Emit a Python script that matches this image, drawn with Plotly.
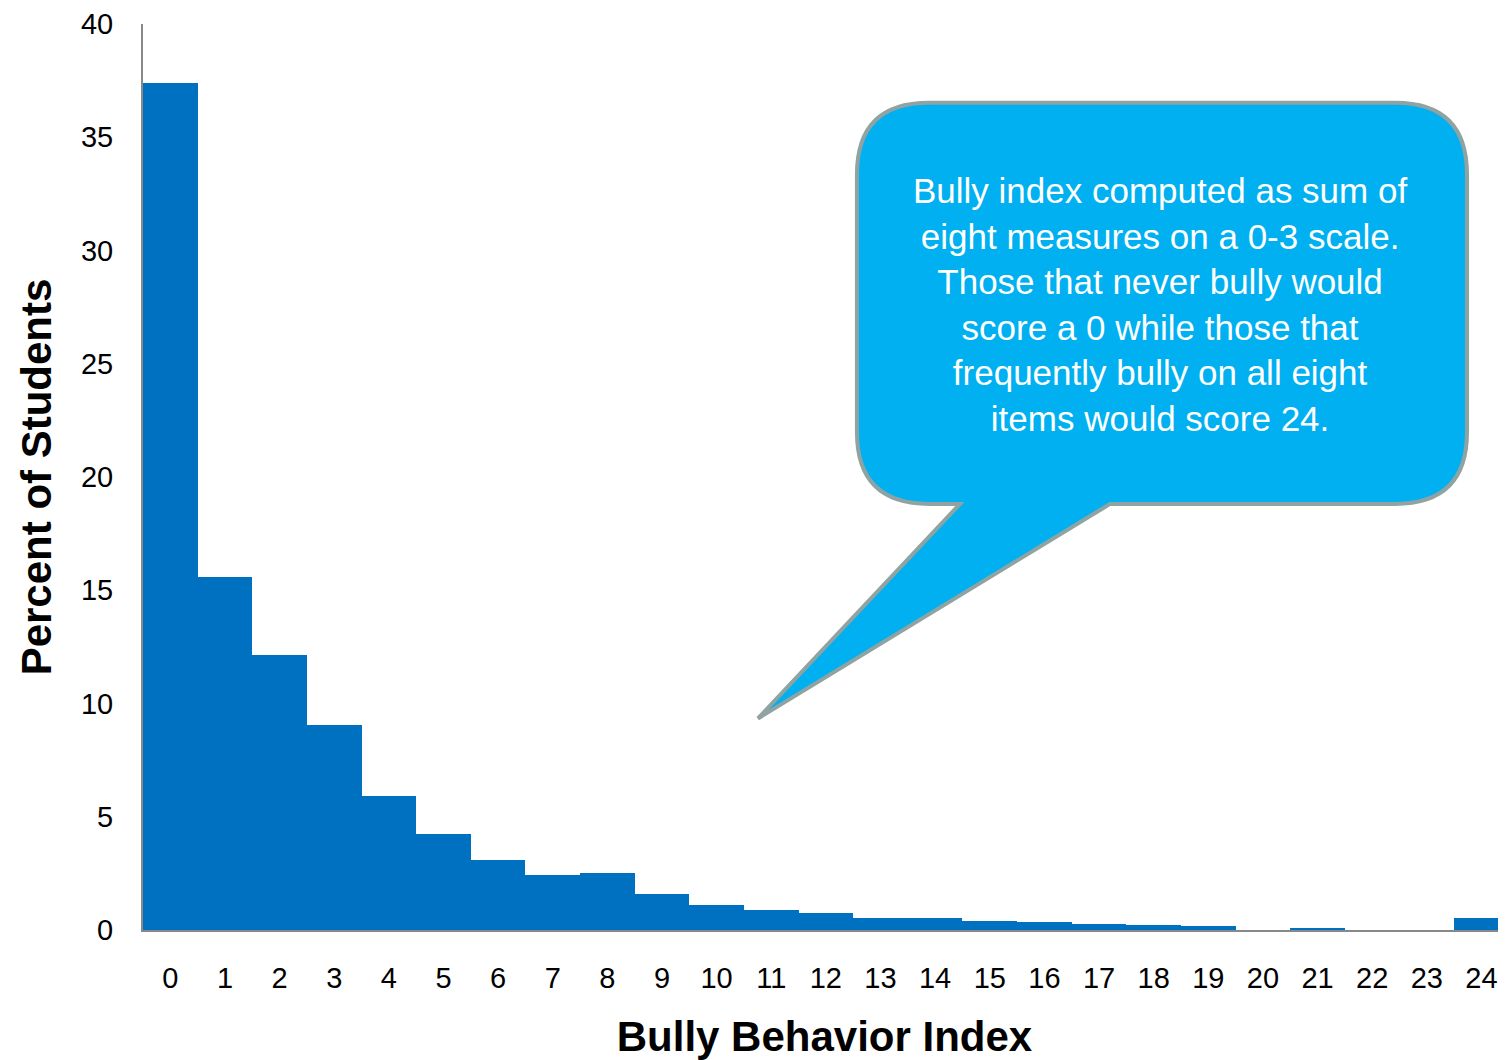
import plotly.graph_objects as go

# Bully behavior index histogram (percent of students per score)
index_scores = list(range(25))
percent_students = [37.4, 15.6, 12.15, 9.06, 5.93, 4.25, 3.11, 2.45, 2.5, 1.59,
                    1.12, 0.9, 0.77, 0.52, 0.52, 0.38, 0.34, 0.25, 0.22, 0.18,
                    0.0, 0.1, 0.0, 0.0, 0.52]
y_ticks = [0, 5, 10, 15, 20, 25, 30, 35, 40]

callout_lines = [
    "Bully index computed as sum of",
    "eight measures on a 0-3 scale.",
    "Those that never bully would",
    "score a 0 while those that",
    "frequently bully on all eight",
    "items would score 24.",
]

# page body has an 8px margin, so the figure is laid out 8px in from the corner
OFF = 8
W, H = 1506 - OFF, 1060 - OFF
L, R, T, B = 143 - OFF, 0, 22 - OFF, 130
PW, PH = W - L - R, H - T - B


def px(x, y):
    """screen pixel position -> paper coords string"""
    return f"{(x - OFF - L) / PW:.4f},{(H - B - (y - OFF)) / PH:.4f}"


# speech bubble outline, drawn in pixel space and mapped to paper
x0, x1, y0, y1, r = 857, 1467, 101, 503, 72
bubble = (
    f"M {px(x0 + r, y0)} L {px(x1 - r, y0)} Q {px(x1, y0)} {px(x1, y0 + r)} "
    f"L {px(x1, y1 - r)} Q {px(x1, y1)} {px(x1 - r, y1)} "
    f"L {px(1110, y1)} L {px(758, 718)} L {px(960, y1)} "
    f"L {px(x0 + r, y1)} Q {px(x0, y1)} {px(x0, y1 - r)} "
    f"L {px(x0, y0 + r)} Q {px(x0, y0)} {px(x0 + r, y0)} Z"
)

fig = go.Figure()
fig.add_trace(go.Bar(
    x=index_scores, y=percent_students,
    marker=dict(color='#0070C0', line=dict(width=0)),
    hovertemplate="Index %{x}: %{y}%<extra></extra>",
))

fig.update_layout(
    width=W, height=H,
    margin=dict(l=L, r=R, t=T, b=B),
    plot_bgcolor='white', paper_bgcolor='white',
    font=dict(family='Liberation Sans, Arial, sans-serif', color='black'),
    bargap=0, showlegend=False,
    xaxis=dict(
        # last bar runs to the right edge in the original
        range=[-0.5, 24.45], tickvals=index_scores,
        ticktext=[str(v) for v in index_scores],
        tickfont=dict(size=29), ticks='', ticklabelstandoff=21,
        ticklabeloverflow='allow',
        showgrid=False, zeroline=False,
        showline=True, linecolor='#888888', linewidth=2,
        title=dict(text='<b>Bully Behavior Index</b>', font=dict(size=42), standoff=32),
    ),
    yaxis=dict(
        range=[0, 40], tickvals=y_ticks,
        tickfont=dict(size=29), ticks='', ticklabelstandoff=22,
        ticklabeloverflow='allow',
        showgrid=False, zeroline=False,
        showline=True, linecolor='#888888', linewidth=2,
        title=dict(text='<b>Percent of Students</b>', font=dict(size=42), standoff=16),
    ),
    shapes=[dict(
        type='path', xref='paper', yref='paper', path=bubble,
        fillcolor='#00B0F0', line=dict(color='#8FA3A3', width=4), layer='above',
    )],
    annotations=[dict(
        xref='paper', yref='paper',
        x=(1160 - OFF - L) / PW, y=(H - B - (303 - OFF)) / PH,
        text='<br>'.join(callout_lines), showarrow=False,
        align='center', xanchor='center', yanchor='middle',
        font=dict(size=35, color='white'),
    )],
)

fig.write_html("out.html")
